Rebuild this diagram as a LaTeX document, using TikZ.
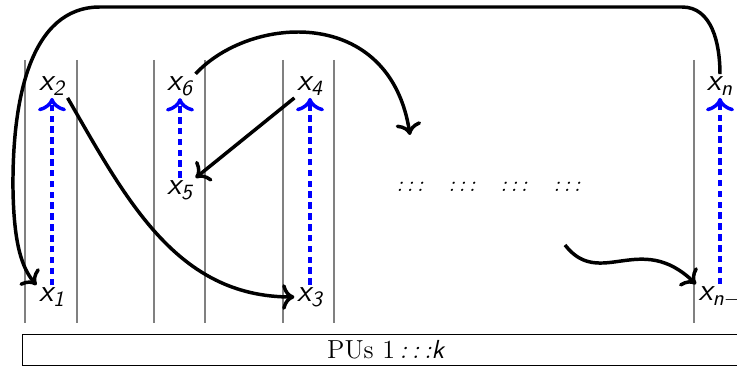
\documentclass[tikz,border=0pt]{standalone}
\usepackage{amsmath}
\usetikzlibrary{positioning, arrows.meta}
\newcommand{\sfit}[1]{\text{\sffamily\slshape #1}}
\newcommand{\el}[1]{$\sfit{x}_{\sfit{#1}}$}
\newcommand{\cdts}{\textit{:\,:\,:}}

\begin{document}
\begin{tikzpicture}[x=0.46pt,y=-0.46pt,
		% lanes of the processing units
		lane/.style={gray, line width=0.5pt},
		% elements and gaps
		elem/.style={inner sep=1pt, font=\Large},
		gap/.style={inner sep=1pt, font=\normalsize},
		% moves between elements
		hop/.style={-{To[scale=1.1]}, line width=1.6pt},
		pass/.style={-{To[scale=1.2]}, blue, dash pattern=on 3pt off 2pt, line width=1.6pt}
		]
		\useasboundingbox (0,0) rectangle (737,367);
		\foreach \lx in {25,77,154,205,283,334,694}
		\draw[lane] (\lx,60) -- (\lx,323);
		
		\node[elem] (x2) at (52,86) {\el{2}};
		\node[elem] (x1) at (52,297) {\el{1}};
		\node[elem] (x6) at (180,86) {\el{6}};
		\node[elem] (x5) at (180,190) {\el{5}};
		\node[elem] (x4) at (310,86) {\el{4}};
		\node[elem] (x3) at (310,297) {\el{3}};
		\node[elem] (xn) at (720,86) {\el{n}};
		\node[elem, anchor=west] (xm) at (696,297) {\el{n$-$1}};
		
		\node[gap] (d1) at (410,187) {\cdts};
		\node[gap] (d2) at (462,187) {\cdts};
		\node[gap] (d3) at (514,187) {\cdts};
		\node[gap] (d4) at (567,187) {\cdts};
		\coordinate (into) at (410,135);
		\coordinate (from) at (565,245);
		
		\node[draw, line width=0.5pt, anchor=west, minimum width=334pt, minimum height=14.3pt, inner sep=0pt, font=\large] (pus) at (22,350) {PUs 1\,\cdts\sfit{k}};
		
		\draw[pass] (x1) -- (x2);
		\draw[pass] (x5) -- (x6);
		\draw[pass] (x3) -- (x4);
		\draw[pass] (xm.north -| xn) -- (xn);
		
		\draw[hop] (xn.north) to[out=90,in=0] (682,7) -- (100,7)
		.. controls (30,7) and (12,100) .. (13,190)
		.. controls (14,245) and (22,268) .. (x1.north west);
		\draw[hop] (x2.south east) to[out=-60,in=180] (x3.west);
		\draw[hop] (x4.south west) -- (x5.north east);
		\draw[hop] (x6.north east) .. controls (250,15) and (390,5) .. (into);
		\draw[hop] (from) .. controls (600,290) and (640,230) .. (xm.north west);
	\end{tikzpicture}
\end{document}
